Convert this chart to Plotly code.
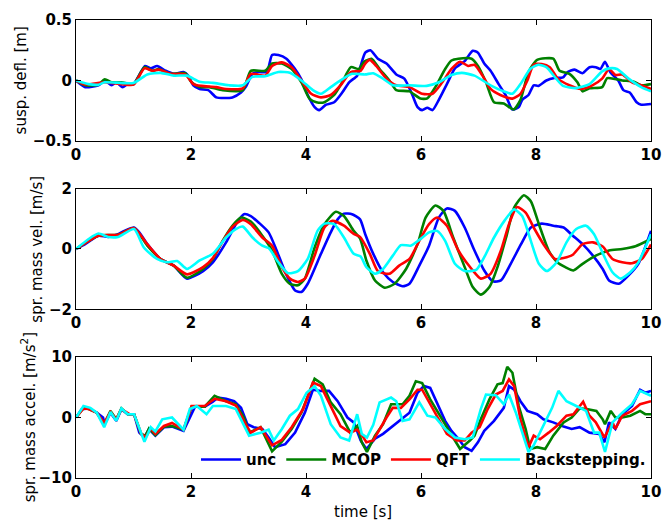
import plotly.graph_objects as go

# ---------------- data (time [s], value) ----------------
series_names = ["unc", "MCOP", "QFT", "Backstepping."]
series_colors = ["#0000FF", "#008000", "#FF0000", "#00FFFF"]

# Panel 1: suspension deflection [m]
defl_unc = [(0,0),(0.16,-0.055),(0.39,-0.04),(0.5,0),(0.62,-0.04),(0.7,-0.015),(0.81,-0.055),(0.9,-0.03),(1.0,-0.03),
    (1.13,0.07),(1.2,0.12),(1.3,0.1),(1.41,0.12),(1.56,0.08),(1.7,0.055),(1.87,0.07),(1.95,0.04),(2.04,-0.04),(2.15,-0.07),
    (2.3,-0.08),(2.44,-0.14),(2.58,-0.145),(2.72,-0.14),(2.87,-0.1),(2.95,-0.055),(3.07,0.055),(3.18,0.07),(3.32,0.07),
    (3.41,0.21),(3.52,0.21),(3.66,0.18),(3.8,0.1),(3.92,0.01),(4.03,-0.12),(4.15,-0.22),(4.23,-0.245),(4.35,-0.2),
    (4.49,-0.18),(4.63,-0.1),(4.75,-0.015),(4.89,0.04),(4.95,0.12),(5.03,0.23),(5.12,0.25),(5.25,0.18),(5.4,0.14),
    (5.57,0.05),(5.71,0.015),(5.85,-0.12),(5.94,-0.22),(6.02,-0.245),(6.11,-0.225),(6.2,-0.245),(6.31,-0.16),(6.45,-0.03),
    (6.59,0.1),(6.76,0.16),(6.9,0.245),(6.99,0.23),(7.1,0.14),(7.21,0.08),(7.35,-0.03),(7.47,-0.12),(7.59,-0.24),
    (7.7,-0.22),(7.76,-0.16),(7.87,-0.12),(7.96,-0.04),(8.04,-0.045),(8.18,0),(8.32,0.02),(8.47,0.025),(8.55,0.07),
    (8.67,0.09),(8.81,0.06),(8.93,0.11),(9.04,0.11),(9.12,0.095),(9.2,0.155),(9.29,0.07),(9.43,0),(9.52,-0.08),
    (9.63,-0.1),(9.75,-0.18),(9.83,-0.2),(10,-0.195)]
defl_mcop = [(0,0),(0.16,-0.04),(0.39,-0.035),(0.5,0.01),(0.62,-0.015),(0.79,-0.015),(1.0,-0.03),(1.19,0.11),(1.33,0.08),
    (1.44,0.095),(1.64,0.055),(1.9,0.06),(2.01,-0.015),(2.15,-0.055),(2.32,-0.055),(2.55,-0.08),(2.9,-0.08),(3.04,0.08),
    (3.29,0.08),(3.41,0.14),(3.58,0.14),(3.75,0.095),(3.92,-0.015),(4.06,-0.15),(4.18,-0.18),(4.32,-0.18),(4.49,-0.12),
    (4.63,-0.015),(4.78,0.11),(4.92,0.095),(5.0,0.15),(5.05,0.165),(5.14,0.18),(5.28,0.095),(5.45,0),(5.57,-0.08),
    (5.8,-0.09),(5.99,-0.15),(6.11,-0.148),(6.25,-0.055),(6.42,0.095),(6.53,0.165),(6.65,0.18),(6.88,0.18),(6.99,0.12),
    (7.13,-0.015),(7.27,-0.18),(7.44,-0.19),(7.61,-0.24),(7.73,-0.16),(7.87,0.07),(8.02,0.17),(8.3,0.18),(8.41,0.08),
    (8.58,0.055),(8.72,-0.015),(8.81,-0.09),(8.93,-0.065),(9.15,-0.055),(9.24,0.02),(9.5,0),(9.69,-0.008),(9.83,-0.04),
    (10,-0.03)]
defl_qft = [(0,0),(0.16,-0.033),(0.5,-0.015),(0.79,-0.03),(1.0,-0.035),(1.19,0.1),(1.33,0.08),(1.44,0.09),(1.64,0.055),
    (1.9,0.05),(2.04,-0.03),(2.18,-0.045),(2.44,-0.055),(2.61,-0.07),(2.9,-0.065),(3.04,0.055),(3.29,0.04),(3.41,0.12),
    (3.58,0.15),(3.75,0.11),(3.92,0),(4.09,-0.11),(4.26,-0.14),(4.43,-0.12),(4.6,-0.04),(4.78,0.07),(4.95,0.08),
    (5.03,0.14),(5.11,0.17),(5.22,0.12),(5.4,0.015),(5.57,-0.04),(5.8,-0.055),(6.02,-0.11),(6.2,-0.11),(6.37,-0.015),
    (6.53,0.095),(6.68,0.155),(6.82,0.12),(6.93,0.13),(7.07,0.04),(7.21,-0.07),(7.38,-0.12),(7.59,-0.15),(7.73,-0.11),
    (7.85,0),(7.96,0.13),(8.1,0.135),(8.24,0.11),(8.38,0.015),(8.58,-0.04),(8.78,-0.07),(8.98,-0.04),(9.15,0.015),
    (9.27,0.095),(9.38,0.045),(9.5,0.05),(9.67,-0.015),(9.83,-0.04),(10,-0.07)]
defl_back = [(0,0),(0.22,-0.03),(0.39,-0.035),(0.5,-0.015),(1.0,-0.02),(1.24,0.05),(1.47,0.063),(1.7,0.04),(1.93,0.04),
    (2.15,-0.01),(2.38,-0.02),(2.66,-0.04),(2.9,-0.04),(3.07,0.03),(3.29,0.035),(3.52,0.07),(3.72,0.063),(3.92,0),
    (4.12,-0.08),(4.26,-0.11),(4.43,-0.055),(4.6,0),(4.8,0.055),(5.03,0.05),(5.17,0.06),(5.34,0.015),(5.51,-0.04),
    (5.8,-0.04),(6.1,-0.045),(6.31,-0.015),(6.53,0.045),(6.71,0.063),(6.93,0.04),(7.21,-0.04),(7.44,-0.09),(7.59,-0.11),
    (7.73,-0.03),(7.9,0.095),(8.04,0.13),(8.18,0.11),(8.35,0.015),(8.47,-0.045),(8.7,-0.063),(8.93,-0.03),(9.15,0.075),
    (9.27,0.1),(9.41,0.095),(9.61,0.015),(9.83,-0.055),(10,-0.09)]

# Panel 2: sprung mass velocity [m/s]
vel_unc = [(0,0),(0.16,0.16),(0.39,0.44),(0.56,0.4),(0.73,0.49),(0.84,0.6),(1.01,0.71),(1.1,0.55),(1.24,0.16),(1.47,-0.33),
    (1.7,-0.55),(1.93,-0.98),(2.21,-0.73),(2.38,-0.44),(2.61,0.22),(2.78,0.82),(2.92,1.15),(3.04,1.09),(3.18,0.87),
    (3.35,0.55),(3.49,-0.05),(3.64,-0.77),(3.81,-1.37),(3.92,-1.42),(4.03,-1.15),(4.26,-0.16),(4.43,0.55),(4.55,0.98),
    (4.66,1.17),(4.8,1.15),(4.94,0.98),(5.03,0.49),(5.17,-0.16),(5.34,-0.77),(5.51,-1.09),(5.68,-1.23),(5.8,-1.15),
    (5.97,-0.55),(6.14,0.11),(6.31,1.04),(6.45,1.34),(6.59,1.26),(6.76,0.71),(6.93,-0.05),(7.1,-0.71),(7.25,-1.07),
    (7.39,-1.04),(7.56,-0.49),(7.74,0.16),(7.91,0.71),(8.1,0.84),(8.3,0.77),(8.48,0.71),(8.64,0.44),(8.81,0.16),
    (8.99,-0.22),(9.16,-0.66),(9.27,-1.04),(9.44,-1.15),(9.61,-0.87),(9.78,-0.49),(10,0.6)]
vel_mcop = [(0,0),(0.39,0.44),(0.73,0.47),(1.01,0.69),(1.24,0.11),(1.47,-0.33),(1.7,-0.55),(1.93,-0.95),(2.21,-0.66),
    (2.38,-0.33),(2.55,0.27),(2.72,0.77),(2.87,1.04),(3.04,0.91),(3.24,0.44),(3.41,-0.05),(3.58,-0.82),(3.72,-1.15),
    (3.86,-1.2),(3.98,-0.98),(4.15,0.05),(4.32,0.82),(4.52,1.23),(4.66,1.09),(4.83,0.6),(4.94,0.35),(5.05,-0.38),
    (5.2,-1.04),(5.37,-1.28),(5.54,-1.15),(5.74,-0.66),(5.94,0.16),(6.08,1.04),(6.25,1.44),(6.39,1.26),(6.56,0.38),
    (6.76,-0.6),(6.9,-1.26),(7.04,-1.51),(7.19,-1.26),(7.33,-0.6),(7.48,0.38),(7.62,1.37),(7.79,1.78),(7.91,1.58),
    (8.05,0.82),(8.22,-0.05),(8.37,-0.44),(8.51,-0.6),(8.65,-0.71),(8.81,-0.49),(9.04,-0.22),(9.27,-0.05),(9.5,0),
    (9.73,0.09),(10,0.33)]
vel_qft = [(0,0),(0.39,0.44),(0.73,0.47),(1.01,0.69),(1.24,0.16),(1.47,-0.33),(1.7,-0.55),(1.93,-0.84),(2.21,-0.6),
    (2.38,-0.3),(2.55,0.25),(2.72,0.73),(2.9,0.96),(3.04,0.82),(3.24,0.38),(3.41,0.11),(3.58,-0.6),(3.72,-0.98),
    (3.86,-1.09),(3.98,-0.98),(4.15,-0.22),(4.32,0.71),(4.46,0.93),(4.66,0.77),(4.83,0.5),(4.94,0.4),(5.11,-0.16),
    (5.25,-0.73),(5.45,-0.82),(5.62,-0.55),(5.8,-0.33),(5.97,0.27),(6.14,0.82),(6.28,1.04),(6.45,0.77),(6.65,-0.05),
    (6.88,-0.66),(7.04,-0.98),(7.21,-0.82),(7.39,-0.05),(7.53,0.82),(7.67,1.39),(7.82,1.2),(7.96,0.71),(8.13,0.16),
    (8.33,-0.33),(8.48,-0.3),(8.64,-0.19),(8.81,0.16),(8.99,0.22),(9.16,0.08),(9.33,-0.33),(9.5,-0.44),(9.67,-0.47),
    (9.84,-0.33),(10,0.15)]
vel_back = [(0,0),(0.22,0.33),(0.39,0.51),(0.56,0.4),(0.73,0.4),(1.01,0.66),(1.18,0.05),(1.41,-0.33),(1.58,-0.44),
    (1.76,-0.4),(1.93,-0.66),(2.15,-0.38),(2.38,-0.16),(2.61,0.38),(2.78,0.66),(2.9,0.74),(3.07,0.38),(3.24,0.11),
    (3.35,0.03),(3.52,-0.44),(3.69,-0.8),(3.86,-0.73),(4.03,-0.33),(4.2,0.6),(4.32,0.84),(4.49,0.82),(4.66,0.38),
    (4.83,-0.16),(4.95,-0.25),(5.05,-0.6),(5.2,-0.82),(5.34,-0.66),(5.51,-0.22),(5.65,0.13),(5.82,0.11),(5.97,0.3),
    (6.14,0.55),(6.28,0.6),(6.42,0.27),(6.59,-0.49),(6.76,-0.73),(6.96,-0.69),(7.1,-0.27),(7.27,0.38),(7.45,0.93),
    (7.62,1.31),(7.76,1.09),(7.91,0.27),(8.05,-0.49),(8.19,-0.73),(8.36,-0.44),(8.53,0.22),(8.7,0.66),(8.87,0.77),
    (9.01,0.49),(9.18,-0.22),(9.33,-0.77),(9.47,-0.98),(9.64,-0.77),(9.78,-0.44),(10,0.49)]

# Panel 3: sprung mass acceleration [m/s^2]
acc_unc = [(0,0),(0.1,1.37),(0.22,1.5),(0.36,0.8),(0.47,0),(0.5,-1.1),(0.6,0.8),(0.7,-0.55),(0.79,1.37),(0.9,0.55),
    (1.01,0.55),(1.1,-2.5),(1.19,-3.3),(1.27,-1.9),(1.38,-3.0),(1.53,-1.6),(1.67,-1.5),(1.87,-2.2),(2.07,1.8),
    (2.24,1.8),(2.38,2.6),(2.47,3.3),(2.61,3.1),(2.75,2.7),(2.87,1.6),(2.98,-1.1),(3.09,-1.6),(3.24,-1.9),(3.35,-3.3),
    (3.46,-4.9),(3.64,-4.4),(3.81,-2.5),(3.98,0.8),(4.12,4.6),(4.26,4.4),(4.4,4.4),(4.55,2.7),(4.72,0),(4.83,-0.8),
    (4.95,-3.8),(5.05,-5.2),(5.2,-3.5),(5.34,-2.7),(5.51,-1.4),(5.65,-0.3),(5.8,0.8),(5.94,4.1),(6.05,5.2),(6.16,4.9),
    (6.28,2.5),(6.42,-0.55),(6.53,-2.2),(6.65,-3.5),(6.76,-4.9),(6.88,-5.5),(6.99,-4.1),(7.1,-2.2),(7.27,-0.55),
    (7.44,1.6),(7.53,5.2),(7.62,4.6),(7.73,2.7),(7.85,1.1),(8.02,0.55),(8.13,-0.3),(8.3,-0.8),(8.48,-1.5),(8.62,-1.9),
    (8.76,-1.6),(8.93,-2.5),(9.1,-2.7),(9.19,-4.1),(9.27,-0.8),(9.38,-1.9),(9.5,0.55),(9.67,1.9),(9.81,4.6),(9.9,4.1),
    (10,4.4)]
acc_mcop = [(0,0),(0.13,1.6),(0.22,1.4),(0.36,0.8),(0.49,-1.1),(0.6,1.1),(0.7,-0.3),(0.79,1.5),(0.9,0.55),(1.01,0.55),
    (1.13,-2.7),(1.21,-3.0),(1.27,-1.8),(1.38,-2.9),(1.53,-1.5),(1.67,-1.4),(1.87,-2.0),(2.01,1.8),(2.24,1.8),(2.41,3.6),
    (2.61,2.7),(2.78,2.2),(2.92,0),(3.01,-2.5),(3.21,-1.6),(3.41,-5.6),(3.58,-4.0),(3.75,-1.9),(3.92,0.8),(4.15,6.4),
    (4.29,5.5),(4.43,2.5),(4.6,0.55),(4.77,-2.5),(4.89,-1.4),(4.97,-4.1),(5.06,-5.7),(5.2,-3.0),(5.34,-1.1),(5.48,2.2),
    (5.68,2.2),(5.8,3.6),(5.91,6.0),(6.02,5.7),(6.16,3.0),(6.31,0.55),(6.45,-1.6),(6.59,-3.8),(6.68,-5.2),(6.76,-4.6),
    (6.85,-3.8),(6.93,-3.0),(7.04,-0.3),(7.19,3.0),(7.33,5.5),(7.42,5.7),(7.5,8.4),(7.59,7.4),(7.7,1.9),(7.82,-1.9),
    (7.9,-5.2),(8.02,-4.9),(8.16,-5.2),(8.3,-3.0),(8.48,-0.8),(8.62,0),(8.76,1.5),(8.88,1.4),(9.05,1.1),(9.16,-0.3),
    (9.2,-1.1),(9.3,1.1),(9.38,0),(9.5,0),(9.64,0.3),(9.81,1.1),(9.9,0.55),(10,0.55)]
acc_qft = [(0,0),(0.13,1.5),(0.22,1.4),(0.36,0.8),(0.49,-0.9),(0.6,0.9),(0.7,-0.3),(0.79,1.4),(0.93,0.55),(1.01,0.55),
    (1.13,-2.6),(1.21,-3.3),(1.3,-1.8),(1.38,-2.7),(1.53,-1.4),(1.67,-0.9),(1.87,-2.0),(2.01,1.9),(2.24,1.9),(2.41,3.1),
    (2.61,2.7),(2.78,2.0),(2.95,-1.1),(3.04,-2.5),(3.21,-1.6),(3.41,-4.6),(3.58,-3.7),(3.75,-1.6),(3.95,1.4),(4.12,5.8),
    (4.26,5.2),(4.43,1.9),(4.6,-1.4),(4.77,-2.5),(4.89,-2.0),(5.0,-3.3),(5.05,-4.1),(5.17,-3.8),(5.28,-1.9),(5.4,0),
    (5.51,1.6),(5.65,1.6),(5.8,3.0),(5.94,4.6),(6.02,4.6),(6.14,2.5),(6.31,-0.3),(6.45,-2.7),(6.62,-3.8),(6.76,-3.8),
    (6.88,-2.5),(7.02,-1.6),(7.16,1.4),(7.3,3.8),(7.42,4.4),(7.53,6.3),(7.62,5.2),(7.73,-0.3),(7.82,-3.3),(7.87,-4.9),
    (7.96,-3.0),(8.07,-3.6),(8.22,-2.5),(8.36,-1.4),(8.53,0.3),(8.65,0.55),(8.82,2.6),(8.93,0.3),(9.04,-0.8),(9.19,-3.3),
    (9.33,-0.8),(9.38,-1.9),(9.5,0.3),(9.67,1.1),(9.81,2.2),(10,2.7)]
acc_back = [(0,0),(0.13,1.9),(0.25,1.6),(0.36,0.8),(0.49,-1.6),(0.6,0.9),(0.7,-0.55),(0.79,1.5),(0.9,0.55),(1.01,0.55),
    (1.19,-4.0),(1.3,-1.6),(1.38,-2.3),(1.5,-0.3),(1.67,0),(1.87,-2.0),(1.98,1.4),(2.1,1.9),(2.27,0.55),(2.38,1.9),
    (2.61,1.9),(2.78,1.4),(3.01,-3.0),(3.21,-2.5),(3.35,-2.0),(3.44,-3.8),(3.58,-1.9),(3.72,0.3),(3.86,1.4),(4.01,4.1),
    (4.15,5.2),(4.26,3.6),(4.43,-1.1),(4.6,-3.3),(4.75,-3.8),(4.89,0.55),(4.97,-2.7),(5.06,-3.3),(5.17,-1.2),(5.28,2.5),
    (5.48,3.3),(5.57,2.7),(5.68,-0.55),(5.8,-0.3),(5.97,2.5),(6.11,0.3),(6.25,0),(6.42,-1.9),(6.59,-3.3),(6.76,-3.6),
    (6.9,-3.3),(7.04,1.4),(7.13,3.8),(7.3,3.7),(7.44,2.2),(7.53,3.8),(7.65,0.8),(7.79,-3.3),(7.87,-5.7),(7.96,-4.6),
    (8.13,-1.4),(8.28,1.6),(8.39,4.4),(8.53,2.7),(8.7,1.9),(8.87,1.1),(9.01,-2.5),(9.1,-2.5),(9.2,-5.7),(9.33,-0.8),
    (9.5,0.8),(9.67,2.2),(9.81,4.4),(10,3.6)]

panel_series = [
    [defl_unc, defl_mcop, defl_qft, defl_back],
    [vel_unc, vel_mcop, vel_qft, vel_back],
    [acc_unc, acc_mcop, acc_qft, acc_back],
]
y_titles = ["susp. defl. [m]", "spr. mass vel. [m/s]", "spr. mass accel. [m/s<sup>2</sup>]"]
y_ranges = [(-0.5, 0.5), (-2, 2), (-10, 10)]
y_ticks = [[-0.5, 0, 0.5], [-2, 0, 2], [-10, 0, 10]]
x_ticks = [0, 2, 4, 6, 8, 10]

# ---------------- figure ----------------
W, H = 672, 523
ML, MR, MT, MB = 76, 11, 16, 45
plot_h = H - MT - MB
# pixel rows of the three axes boxes (top, bottom)
boxes = [(16, 138), (186, 308), (356, 478)]

def py(p):
    return (H - MB - p) / plot_h

def px(p):
    return (p - ML) / (W - ML - MR)

fig = go.Figure()
tick_font = dict(family="DejaVu Sans", size=15, color="black", weight="bold")

for i, group in enumerate(panel_series):
    ax = "" if i == 0 else str(i + 1)
    for j, data in enumerate(group):
        t = [d[0] for d in data]
        v = [d[1] for d in data]
        fig.add_trace(go.Scatter(
            x=t, y=v, mode="lines", name=series_names[j],
            line=dict(color=series_colors[j], width=2.6,
                      shape="linear" if i == 2 else "spline",
                      smoothing=0.6 if i < 2 else None),
            legendgroup=series_names[j], showlegend=(i == 2),
            xaxis="x" + ax, yaxis="y" + ax, hoverinfo="skip"))
    top, bot = boxes[i]
    common = dict(showline=True, linecolor="black", linewidth=1, mirror="ticks",
                  ticks="inside", ticklen=5, tickcolor="black", showgrid=False,
                  zeroline=False, tickfont=tick_font)
    fig.layout["xaxis" + ax] = dict(range=[0, 10], tickvals=x_ticks, anchor="y" + ax,
                                    domain=[0, 1], **common)
    fig.layout["yaxis" + ax] = dict(range=list(y_ranges[i]), tickvals=y_ticks[i],
                                    anchor="x" + ax, domain=[py(bot), py(top)], **common)

# y-axis titles
title_x = [21, 36, 27]
for i, txt in enumerate(y_titles):
    top, bot = boxes[i]
    fig.add_annotation(text=txt, xref="paper", yref="paper", x=px(title_x[i]), y=py((top + bot) / 2),
                       textangle=-90, showarrow=False, xanchor="center", yanchor="middle",
                       font=dict(family="DejaVu Sans", size=15, color="black"))
fig.add_annotation(text="time [s]", xref="paper", yref="paper", x=px(368), y=py(512),
                   showarrow=False, xanchor="center", yanchor="middle",
                   font=dict(family="DejaVu Sans", size=15, color="black"))

fig.update_layout(
    width=W, height=H, margin=dict(l=ML, r=MR, t=MT, b=MB),
    paper_bgcolor="white", plot_bgcolor="white",
    legend=dict(orientation="h", x=px(661), xanchor="right", y=py(443), yanchor="top",
                bgcolor="rgba(255,255,255,0)", borderwidth=0,
                font=dict(family="DejaVu Sans", size=15, color="black", weight="bold"),
                itemwidth=40, tracegroupgap=0),
)

fig.write_html("out.html", config={"displayModeBar": False},
               post_script="document.body.style.margin='0';document.body.style.overflow='hidden';")
